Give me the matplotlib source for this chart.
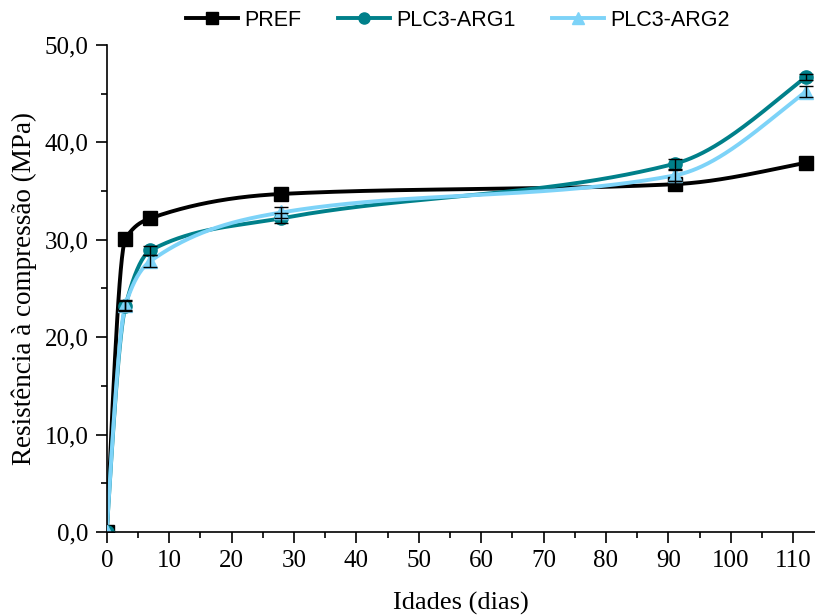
import numpy as np
import matplotlib
matplotlib.use('Agg')
import matplotlib.pyplot as plt
from matplotlib.ticker import MultipleLocator, FuncFormatter

# data
idades = np.array([0, 3, 7, 28, 91, 112])
pref = np.array([0.0, 30.1, 32.2, 34.7, 35.7, 37.9])
pref_err = np.array([0.0, 0.6, 0.4, 0.3, 0.3, 0.3])
arg1 = np.array([0.0, 23.2, 28.9, 32.2, 37.8, 46.7])
arg1_err = np.array([0.0, 0.5, 0.5, 0.5, 0.5, 0.3])
arg2 = np.array([0.0, 23.3, 27.8, 32.8, 36.6, 45.2])
arg2_err = np.array([0.0, 0.5, 0.6, 0.6, 0.6, 0.6])

series = [('PREF', pref, pref_err, 'black', 's'),
          ('PLC3-ARG1', arg1, arg1_err, '#00808a', 'o'),
          ('PLC3-ARG2', arg2, arg2_err, '#7dd3f8', '^')]


def pchip(x, y, xs):
   # monotone cubic (Fritsch-Carlson) just for drawing the smooth line
   h = np.diff(x)
   d = np.diff(y) / h
   n = len(x)
   m = np.zeros(n)
   for k in range(1, n - 1):
      if d[k-1] * d[k] > 0:
         w1 = 2*h[k] + h[k-1]
         w2 = h[k] + 2*h[k-1]
         m[k] = (w1 + w2) / (w1/d[k-1] + w2/d[k])
   m[0] = ((2*h[0] + h[1])*d[0] - h[0]*d[1]) / (h[0] + h[1])
   if m[0]*d[0] <= 0: m[0] = 0
   elif d[0]*d[1] <= 0 and abs(m[0]) > abs(3*d[0]): m[0] = 3*d[0]
   m[-1] = ((2*h[-1] + h[-2])*d[-1] - h[-1]*d[-2]) / (h[-1] + h[-2])
   if m[-1]*d[-1] <= 0: m[-1] = 0
   elif d[-1]*d[-2] <= 0 and abs(m[-1]) > abs(3*d[-1]): m[-1] = 3*d[-1]
   idx = np.clip(np.searchsorted(x, xs) - 1, 0, n - 2)
   t = (xs - x[idx]) / h[idx]
   h00 = 2*t**3 - 3*t**2 + 1
   h10 = t**3 - 2*t**2 + t
   h01 = -2*t**3 + 3*t**2
   h11 = t**3 - t**2
   return h00*y[idx] + h10*h[idx]*m[idx] + h01*y[idx+1] + h11*h[idx]*m[idx+1]


dpi = 100
fig = plt.figure(figsize=(815/dpi, 615/dpi), dpi=dpi)
ax = fig.add_axes([0.131, 0.135, 0.869, 0.792])

xs = np.linspace(idades[0], idades[-1], 600)
handles = []
for name, vals, err, col, mk in series:
   ax.plot(xs, pchip(idades.astype(float), vals, xs), color=col, lw=2.8, zorder=2)
   ax.plot(idades, vals, ls='none', marker=mk, ms=9.5, color=col, zorder=3)
   ax.errorbar(idades, vals, yerr=err, fmt='none', ecolor='black', elinewidth=1,
               capsize=5, capthick=1, zorder=4)
   h, = ax.plot([], [], color=col, lw=2.8, marker=mk, ms=8, label=name)
   handles.append(h)

ax.set_xlim(0, 113.5)
ax.set_ylim(0, 50)
ax.spines['top'].set_visible(False)
ax.spines['right'].set_visible(False)
ax.spines['left'].set_linewidth(1.2)
ax.spines['bottom'].set_linewidth(1.2)
ax.xaxis.set_major_locator(MultipleLocator(10))
ax.xaxis.set_minor_locator(MultipleLocator(5))
ax.yaxis.set_major_locator(MultipleLocator(10))
ax.yaxis.set_minor_locator(MultipleLocator(5))
ax.yaxis.set_major_formatter(FuncFormatter(lambda v, p: ('%.1f' % v).replace('.', ',')))
ax.tick_params(which='major', direction='out', length=8, width=1.2, pad=5)
ax.tick_params(which='minor', direction='out', length=4.5, width=1.2)
for lab in ax.get_xticklabels() + ax.get_yticklabels():
   lab.set_family('Liberation Serif')
   lab.set_fontsize(18)

ax.set_xlabel('Idades (dias)', family='Liberation Serif', fontsize=19, labelpad=14)
ax.set_ylabel('Resistência à compressão (MPa)', family='Liberation Serif', fontsize=19.5, labelpad=6)

fig.legend(handles=handles, loc='center', bbox_to_anchor=(0.562, 0.967), ncol=3,
           frameon=False, prop={'family': 'Liberation Sans', 'size': 15.5},
           handlelength=2.4, columnspacing=1.7, handletextpad=0.3)

plt.savefig('out.png', dpi=dpi)
plt.close()
